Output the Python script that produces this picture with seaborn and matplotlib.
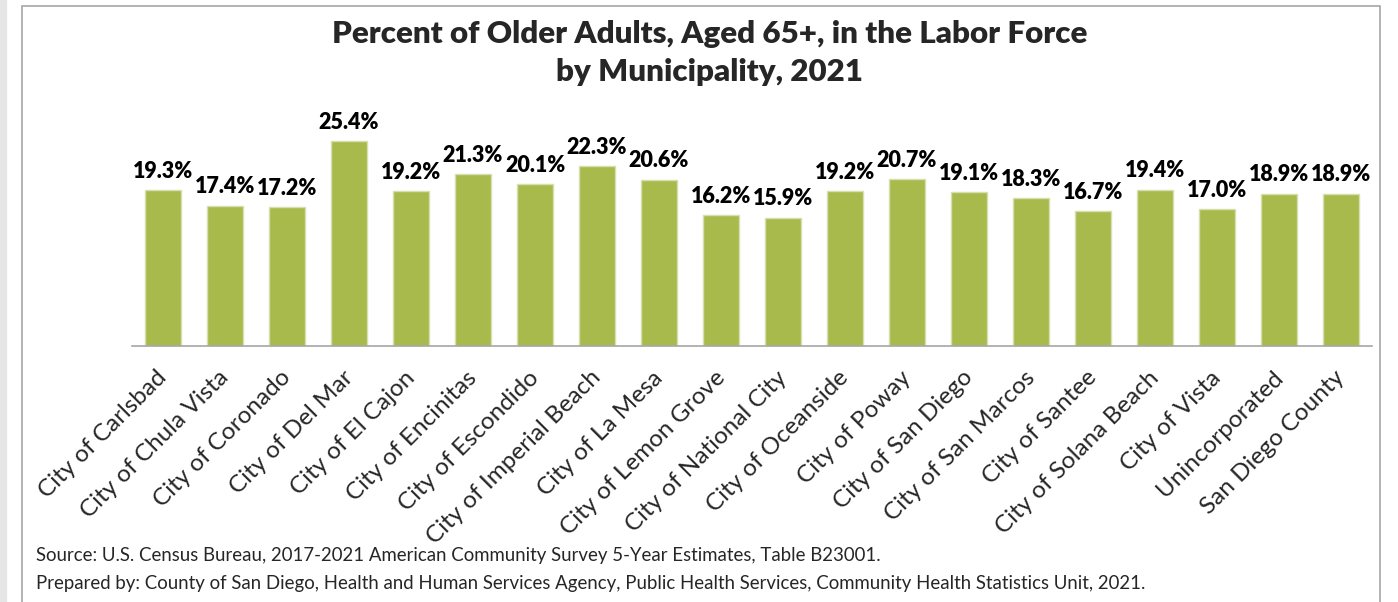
import numpy as np
import pandas as pd
import matplotlib.pyplot as plt
import matplotlib.transforms as mtransforms
import seaborn as sb
from matplotlib.patches import Rectangle

municipalities = ["City of Carlsbad", "City of Chula Vista", "City of Coronado", "City of Del Mar",
                  "City of El Cajon", "City of Encinitas", "City of Escondido", "City of Imperial Beach",
                  "City of La Mesa", "City of Lemon Grove", "City of National City", "City of Oceanside",
                  "City of Poway", "City of San Diego", "City of San Marcos", "City of Santee",
                  "City of Solana Beach", "City of Vista", "Unincorporated", "San Diego County"]
pct_labor_force = [19.3, 17.4, 17.2, 25.4, 19.2, 21.3, 20.1, 22.3, 20.6, 16.2,
                   15.9, 19.2, 20.7, 19.1, 18.3, 16.7, 19.4, 17.0, 18.9, 18.9]

title = "Percent of Older Adults, Aged 65+, in the Labor Force\nby Municipality, 2021"
source_lines = ["Source: U.S. Census Bureau, 2017-2021 American Community Survey 5-Year Estimates, Table B23001.",
                "Prepared by: County of San Diego, Health and Human Services Agency, Public Health Services, Community Health Statistics Unit, 2021."]

df = pd.DataFrame({"Municipality": municipalities, "Percent": pct_labor_force})

sb.set_style("white")
plt.rcParams["font.family"] = ["Lato", "DejaVu Sans"]

fig = plt.figure(figsize=(13.98, 6.02), dpi=100)

# grey page strip and the chart frame
fig.patches.append(Rectangle((0, 0), 6 / 1398, 1, transform=fig.transFigure, color="#e6e6e6", zorder=-2))
fig.patches.append(Rectangle((22 / 1398, -0.01), (1380 - 22) / 1398, 1 - 6 / 602 + 0.01,
                             transform=fig.transFigure, facecolor="white", edgecolor="#a6a6a6",
                             linewidth=1.2, zorder=-1))

ax = fig.add_axes([132 / 1398, 1 - 346 / 602, (1372 - 132) / 1398, (346 - 104) / 602])
ax.set_zorder(2)
ax.patch.set_alpha(0)
sb.barplot(data=df, x="Municipality", y="Percent", color="#a9ba4d", width=0.57,
           edgecolor="#d4e0ae", linewidth=1, saturation=1, ax=ax)
ax.set_ylim(0, 30)
ax.set_xlim(-0.5, len(municipalities) - 0.5)

ax.bar_label(ax.containers[0], labels=[f"{v:.1f}%" for v in pct_labor_force], padding=6,
             fontsize=15.5, fontweight="heavy", color="black")

for side in ["top", "right", "left"]:
    ax.spines[side].set_visible(False)
ax.spines["bottom"].set_color("#a6a6a6")
ax.spines["bottom"].set_linewidth(1.2)
ax.set_yticks([])
ax.set_xlabel("")
ax.set_ylabel("")

ax.set_xticks(np.arange(len(municipalities)))
ax.set_xticklabels(municipalities, rotation=45, ha="right", va="top", rotation_mode="anchor",
                   fontsize=17.5)
ax.tick_params(axis="x", which="major", length=0, pad=15)
shift = mtransforms.ScaledTranslation(-7 / 100, 0, fig.dpi_scale_trans)
for lab in ax.get_xticklabels():
    lab.set_transform(lab.get_transform() + shift)
ax.set_xticks(np.arange(len(municipalities) + 1) - 0.5, minor=True)
ax.tick_params(axis="x", which="minor", length=7, width=1.2, color="#a6a6a6", direction="out")

fig.text(710 / 1398, 1 - 53 / 602, title, ha="center", va="center", fontsize=22.5,
         fontweight="heavy", linespacing=1.45)
fig.text(36 / 1398, 1 - 556 / 602, source_lines[0], ha="left", va="center", fontsize=13.4)
fig.text(36 / 1398, 1 - 584 / 602, source_lines[1], ha="left", va="center", fontsize=13.4)

plt.savefig("out.png", dpi=100)
